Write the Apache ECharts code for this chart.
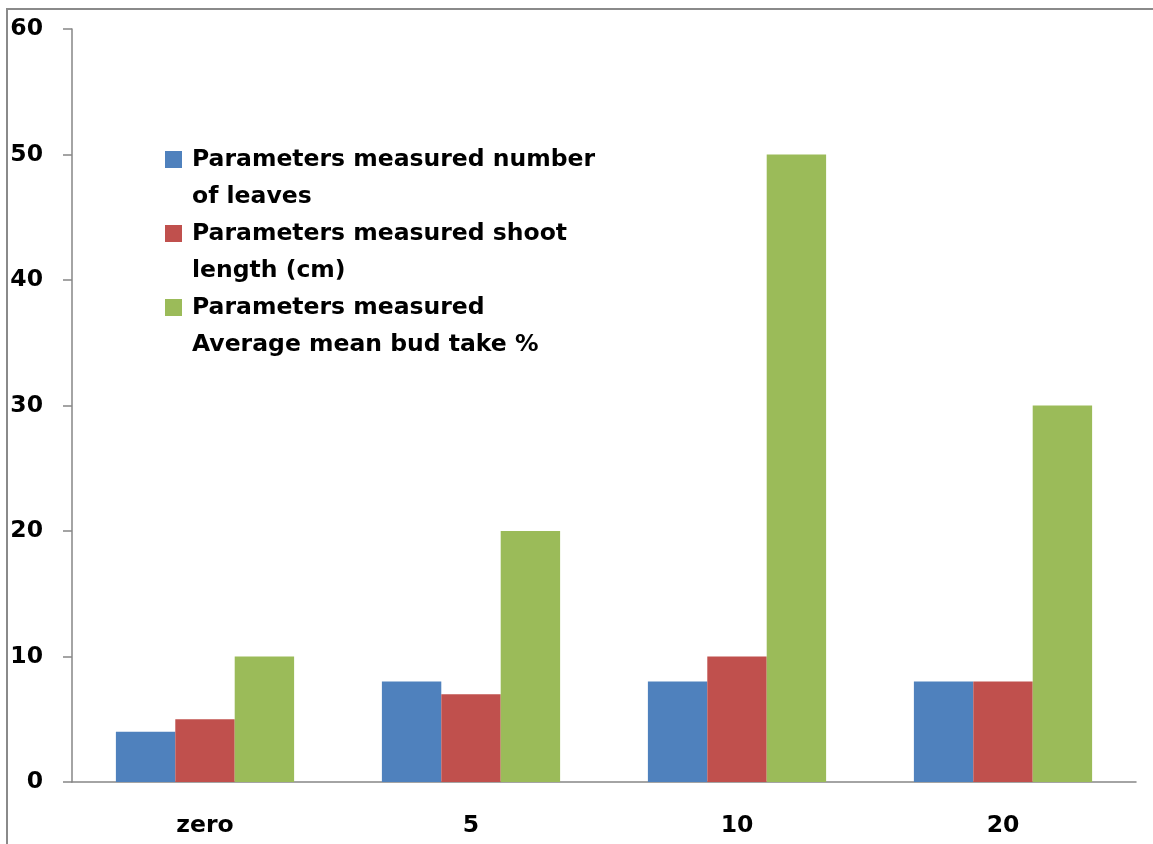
<!DOCTYPE html>
<html><head><meta charset="utf-8">
<script src="https://cdn.jsdelivr.net/npm/echarts@6/dist/echarts.min.js"></script>
<style>html,body{margin:0;padding:0;background:#fff}#c{width:1153px;height:844px}</style>
</head><body><div id="c"></div>
<script>
const categories = ['zero', '5', '10', '20'];
const seriesNames = ['Parameters measured number of leaves', 'Parameters measured shoot length (cm)', 'Parameters measured Average mean bud take %'];
const leaves = [4, 8, 8, 8];
const shootLength = [5, 7, 10, 8];
const budTake = [10, 20, 50, 30];
const yTicks = [0, 10, 20, 30, 40, 50, 60];
const legendLines = {
  'Parameters measured number of leaves': 'Parameters measured number\nof leaves',
  'Parameters measured shoot length (cm)': 'Parameters measured shoot\nlength (cm)',
  'Parameters measured Average mean bud take %': 'Parameters measured\nAverage mean bud take %'
};
const colors = ['#4F81BD', '#C0504D', '#9BBB59'];
const font = '"DejaVu Sans", sans-serif';
// square on top of a taller box so the icon lines up with the first text line
const legendIcon = 'path://M0,0L17,0L17,17L0,17ZM22,54L22.01,54Z';
const chart = echarts.init(document.getElementById('c'));
chart.setOption({
  animation: false,
  color: colors,
  grid: {left: 72, right: 17, top: 29, bottom: 62, containLabel: false},
  graphic: [{type: 'rect', shape: {x: 7, y: 9, width: 1160, height: 850}, style: {fill: 'none', stroke: '#8a8a8a', lineWidth: 2}, silent: true}],
  legend: {
    orient: 'vertical', left: 160, top: 136,
    itemWidth: 22, itemHeight: 54, itemGap: 0,
    icon: legendIcon,
    formatter: n => legendLines[n],
    textStyle: {fontFamily: font, fontWeight: 'bold', fontSize: 23.5, color: '#000', lineHeight: 37},
    data: seriesNames
  },
  xAxis: {
    type: 'category', data: categories,
    axisLine: {lineStyle: {color: '#868686', width: 1.5}},
    axisTick: {length: 10, lineStyle: {color: '#868686', width: 1.5}},
    axisLabel: {fontFamily: font, fontWeight: 'bold', fontSize: 23.5, color: '#000', margin: 32}
  },
  yAxis: {
    type: 'value', min: yTicks[0], max: yTicks[yTicks.length - 1], interval: 10,
    splitLine: {show: false},
    axisLine: {show: true, lineStyle: {color: '#868686', width: 1.5}},
    axisTick: {show: true, length: 9, lineStyle: {color: '#868686', width: 1.5}},
    axisLabel: {fontFamily: font, fontWeight: 'bold', fontSize: 23.5, color: '#000', margin: 29}
  },
  series: [
    {name: seriesNames[0], type: 'bar', data: leaves, barGap: '0%', barCategoryGap: '33%'},
    {name: seriesNames[1], type: 'bar', data: shootLength, barGap: '0%', barCategoryGap: '33%'},
    {name: seriesNames[2], type: 'bar', data: budTake, barGap: '0%', barCategoryGap: '33%'}
  ]
});
</script></body></html>
